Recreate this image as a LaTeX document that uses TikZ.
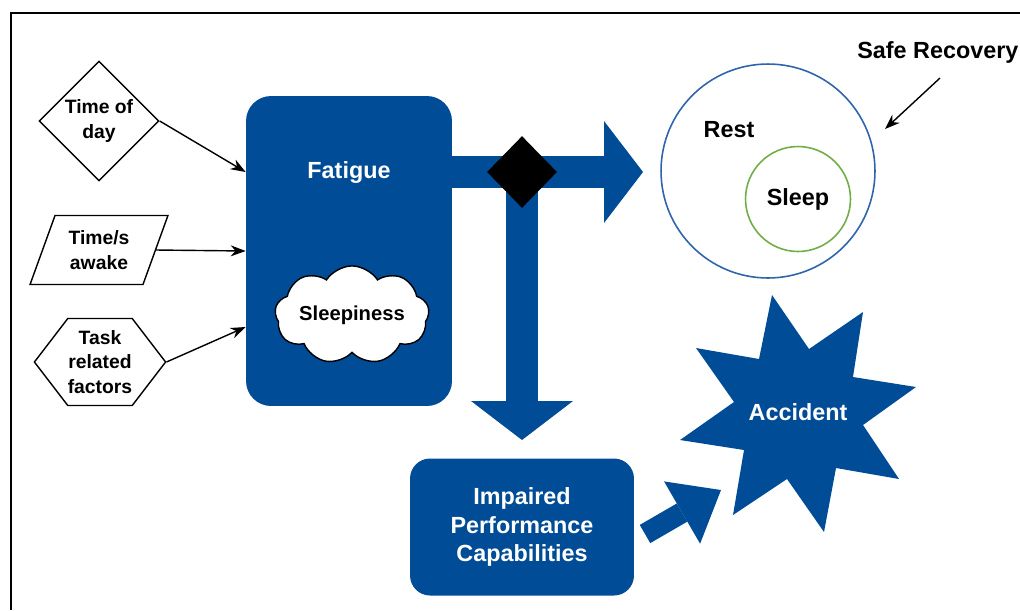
\documentclass[tikz,border=0pt]{standalone}
\usepackage{fontspec}
\setmainfont{Liberation Sans}
\usetikzlibrary{shapes.geometric,shapes.symbols,arrows.meta}
\definecolor{fatblue}{RGB}{0,76,151}
\definecolor{restblue}{RGB}{46,100,170}
\definecolor{sleepgreen}{RGB}{112,173,71}
\tikzset{
  factor/.style={draw=black, line width=0.8pt, align=center, inner sep=0pt,
    font=\fontsize{11}{14}\selectfont\bfseries},
  bluebox/.style={fill=fatblue, rounded corners=0.5cm},
  whitetxt/.style={text=white, align=center, font=\fontsize{13.3}{16.3}\selectfont\bfseries},
  blacktxt/.style={text=black, font=\fontsize{13.3}{16}\selectfont\bfseries},
  thinarrow/.style={-{Stealth[length=0.3cm,width=0.22cm]}, line width=0.8pt},
  bigarrow/.style={draw=fatblue, line width=0.64cm,
    -{Triangle[length=0.78cm,width=2.04cm,line width=0pt]}}
}
\begin{document}
\begin{tikzpicture}[x=0.02cm, y=-0.02cm]
\useasboundingbox (0,0) rectangle (1020,610);
\draw[line width=1.1pt] (11,610) -- (11,13) -- (1020,13);

% what feeds fatigue
\node[factor, diamond, aspect=1, minimum width=2.4cm, minimum height=2.4cm] (tod) at (99,121) {Time of\\day};
\node[factor, trapezium, trapezium left angle=66, trapezium right angle=114, trapezium stretches=true,
  minimum width=2.76cm, minimum height=1.38cm] (awake) at (99,250) {Time/s\\awake};
\node[factor, signal, signal to=east and west, signal pointer angle=105,
  minimum width=2.6cm, minimum height=1.74cm] (task) at (100,362) {Task\\related\\factors};

% fatigue box
\node[bluebox, minimum width=4.12cm, minimum height=6.2cm] (fatigue) at (349,251) {};
\node[whitetxt] (fattxt) at (349,172) {Fatigue};
\node[cloud, cloud puffs=9, cloud puff arc=115, aspect=2, inner sep=0pt, draw=black, fill=white, line width=0.8pt,
  minimum width=3.0cm, minimum height=1.7cm, font=\fontsize{11.5}{14}\selectfont\bfseries] (sleepy) at (352,315) {Sleepiness};

\draw[thinarrow] (tod.east) -- ([yshift=1.58cm]fatigue.west);
\draw[thinarrow] (awake.east) -- (fatigue.west);
\draw[thinarrow] (task.east) -- ([yshift=-1.52cm]fatigue.west);

% split of the big arrows
\coordinate (split) at (522,172);
\coordinate (rtip) at (643,172);
\coordinate (dtip) at (522,440);
\draw[bigarrow] (fatigue.east |- split) -- (rtip);
\draw[bigarrow] (split) -- (dtip);
\node[diamond, fill=black, inner sep=0pt, minimum width=1.4cm, minimum height=1.44cm] (junction) at (split) {};

% impaired performance
\node[bluebox, rounded corners=0.4cm, minimum width=4.48cm, minimum height=2.74cm, whitetxt] (impaired) at (522,527) {Impaired\\Performance\\Capabilities};

% accident
\fill[fatblue] (772,295) -- (809,349) -- (863,312) -- (853,377) -- (916,387) -- (863,425)
  -- (899,479) -- (836,468) -- (824,532) -- (787,479) -- (733,515) -- (744,450)
  -- (680,440) -- (734,402) -- (696,348) -- (759,359) -- cycle;
\node[whitetxt] (accident) at (798,412) {Accident};
\coordinate (acctail) at (645,534);
\coordinate (acctip) at (721,490);
\draw[bigarrow, line width=0.42cm, -{Triangle[length=0.9cm,width=1.44cm,line width=0pt]}] (acctail) -- (acctip);

% recovery
\node[circle, draw=restblue, line width=0.9pt, minimum size=4.28cm, inner sep=0pt] (rest) at (768,171) {};
\node[blacktxt] (resttxt) at (729,130) {Rest};
\node[circle, draw=sleepgreen, line width=0.9pt, minimum size=2.1cm, inner sep=0pt, blacktxt] (sleep) at (798,199) {Sleep};
\node[blacktxt, anchor=west, inner sep=0pt] (safe) at (857,52) {Safe Recovery};
\coordinate (srtail) at (940,78);
\coordinate (srhead) at (885,129);
\draw[thinarrow] (srtail) -- (srhead);
\end{tikzpicture}
\end{document}
